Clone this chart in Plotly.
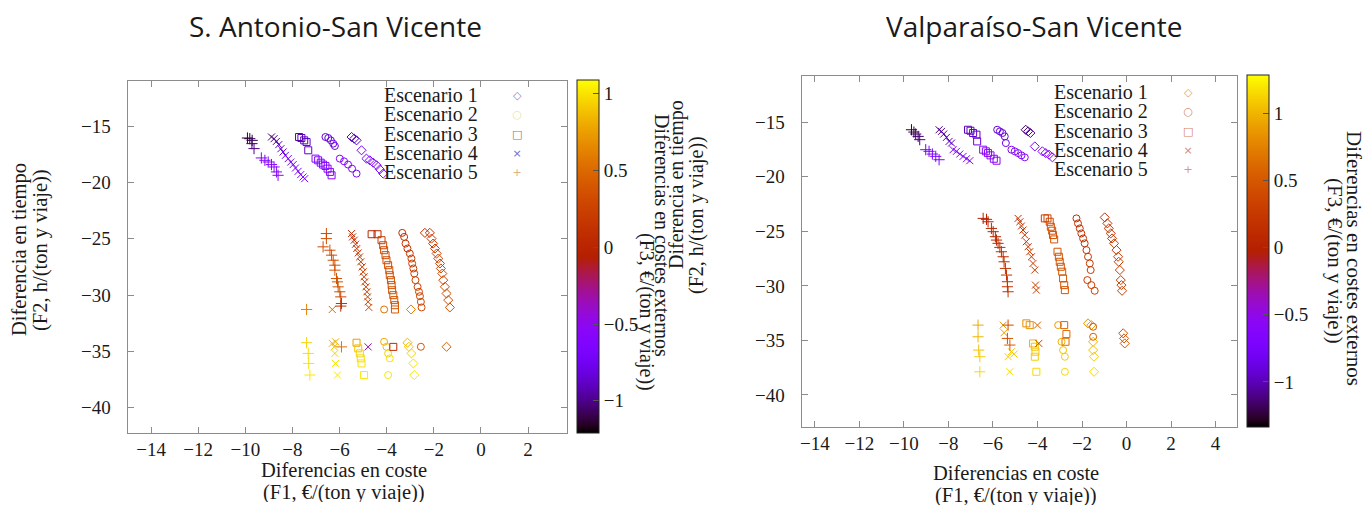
import math
import plotly.graph_objects as go

# ---------------- DATA ----------------
# S. Antonio-San Vicente (left panel): F1 = cost diff, F2 = time diff, F3 = external cost diff
SA_E1_F1 = [-5.49, -5.38, -5.28, -5.07, -4.86, -4.72, -4.57, -4.43, -4.29, -4.15,
            -2.38, -2.17, -2.10, -2.03, -1.95, -1.88, -1.81, -1.74, -1.70, -1.64, -1.60, -1.53, -1.46, -1.39, -1.32,
            -2.97, -3.12, -3.06, -2.95, -2.87, -2.83, -1.46]
SA_E1_F2 = [-15.97, -16.12, -16.27, -17.15, -17.89, -18.04, -18.25, -18.48, -18.84, -19.22,
            -24.48, -24.48, -24.99, -25.43, -25.87, -26.31, -26.76, -27.20, -27.64, -28.09, -28.68, -29.27, -29.86, -30.45, -31.10,
            -31.28, -34.23, -34.59, -35.18, -36.07, -37.10, -34.59]
SA_E1_F3 = [-0.95, -0.92, -0.90, -0.70, -0.62, -0.61, -0.60, -0.60, -0.59, -0.58,
            0.10, 0.15, 0.20, 0.22, 0.24, 0.25, 0.26, 0.28, 0.28, 0.30, 0.30, 0.32, 0.33, 0.34, 0.35,
            0.60, 0.85, 0.90, 0.95, 1.00, 1.02, 0.45]

SA_E2_F1 = [-6.60, -6.48, -6.37, -6.27, -6.20, -5.99, -5.81, -5.64, -5.47, -5.28,
            -3.34, -3.26, -3.20, -3.12, -3.02, -2.95, -2.92, -2.87, -2.83, -2.78, -2.69, -2.63, -2.59, -2.55, -2.52,
            -4.11, -4.11, -4.01, -3.94, -3.87, -3.94, -2.55]
SA_E2_F2 = [-15.97, -16.06, -16.27, -16.56, -16.77, -17.89, -18.13, -18.42, -18.78, -19.22,
            -24.48, -24.84, -25.43, -25.87, -26.31, -26.76, -27.20, -27.64, -28.09, -28.68, -29.27, -29.71, -30.10, -30.60, -31.10,
            -31.28, -34.15, -34.59, -35.18, -35.62, -37.10, -34.59]
SA_E2_F3 = [-0.85, -0.84, -0.83, -0.82, -0.80, -0.62, -0.61, -0.60, -0.60, -0.58,
            0.05, 0.10, 0.14, 0.16, 0.18, 0.20, 0.21, 0.22, 0.23, 0.24, 0.26, 0.27, 0.28, 0.29, 0.30,
            0.55, 0.80, 0.90, 0.95, 1.00, 1.02, 0.40]

SA_E3_F1 = [-7.72, -7.62, -7.50, -7.40, -7.33, -7.02, -6.91, -6.80, -6.70, -6.60, -6.51, -6.41, -6.34,
            -4.64, -4.39, -4.22, -4.15, -4.11, -4.05, -4.01, -3.94, -3.89, -3.87, -3.82, -3.79, -3.77, -3.72, -3.68, -3.65, -3.65,
            -5.28, -5.21, -5.14, -5.10, -5.07, -4.96, -3.72]
SA_E3_F2 = [-15.97, -16.06, -16.27, -16.42, -17.15, -17.89, -18.04, -18.25, -18.42, -18.54, -18.78, -19.07, -19.37,
            -24.60, -24.60, -25.13, -25.58, -26.02, -26.46, -26.91, -27.35, -27.79, -28.24, -28.68, -29.12, -29.57, -30.01, -30.45, -30.90, -31.28,
            -34.23, -34.73, -35.18, -35.62, -36.07, -37.10, -34.60]
SA_E3_F3 = [-0.95, -0.92, -0.90, -0.88, -0.85, -0.62, -0.61, -0.60, -0.60, -0.59, -0.58, -0.57, -0.56,
            0.00, 0.02, 0.20, 0.28, 0.30, 0.32, 0.32, 0.34, 0.34, 0.35, 0.35, 0.36, 0.36, 0.37, 0.37, 0.38, 0.40,
            0.75, 0.90, 0.95, 0.98, 1.00, 1.02, 0.05]

SA_E4_F1 = [-8.89, -8.78, -8.68, -8.58, -8.49, -8.40, -8.30, -8.18, -8.07, -7.97, -7.87, -7.76, -7.65, -7.55, -7.48,
            -5.49, -5.45, -5.38, -5.32, -5.27, -5.21, -5.15, -5.10, -5.04, -5.00, -4.96, -4.93, -4.88, -4.84, -4.81, -4.79, -4.76,
            -6.31, -6.31, -6.23, -6.17, -6.20, -6.17, -6.09, -4.79]
SA_E4_F2 = [-15.97, -16.12, -16.36, -16.65, -17.01, -17.30, -17.60, -17.89, -18.19, -18.42, -18.72, -19.02, -19.31, -19.52, -19.67,
            -24.54, -24.84, -25.13, -25.49, -25.87, -26.26, -26.61, -27.05, -27.50, -27.94, -28.38, -28.83, -29.27, -29.71, -30.16, -30.60, -31.10,
            -31.28, -34.29, -34.59, -34.15, -35.18, -36.07, -37.10, -34.60]
SA_E4_F3 = [-1.05, -1.00, -0.95, -0.90, -0.85, -0.80, -0.75, -0.70, -0.68, -0.66, -0.64, -0.62, -0.60, -0.60, -0.58,
            0.00, 0.05, 0.10, 0.12, 0.15, 0.18, 0.20, 0.20, 0.22, 0.22, 0.24, 0.24, 0.25, 0.26, 0.26, 0.27, 0.28,
            0.50, 0.85, 0.90, 0.80, 0.95, 1.00, 1.02, -0.35]

SA_E5_F1 = [-9.91, -9.81, -9.71, -9.72, -9.63, -9.32, -9.17, -9.03, -8.89, -8.78, -8.68, -8.61,
            -6.56, -6.56, -6.70, -6.41, -6.34, -6.27, -6.20, -6.20, -6.13, -6.09, -6.06, -5.99, -5.95, -5.92, -5.95,
            -7.40, -7.40, -7.33, -7.31, -7.26, -5.92]
SA_E5_F2 = [-16.06, -16.12, -16.27, -16.56, -17.00, -17.83, -18.04, -18.19, -18.42, -18.63, -19.07, -19.37,
            -24.54, -24.99, -25.72, -26.02, -26.46, -26.91, -27.35, -27.79, -28.53, -28.83, -29.27, -29.71, -30.16, -30.75, -30.98,
            -31.28, -34.23, -35.18, -36.07, -37.10, -34.60]
SA_E5_F3 = [-1.15, -1.12, -1.08, -1.05, -1.00, -0.62, -0.60, -0.60, -0.58, -0.58, -0.56, -0.55,
            0.30, 0.32, 0.34, 0.35, 0.36, 0.36, 0.37, 0.37, 0.38, 0.38, 0.38, 0.36, 0.30, 0.15, 0.10,
            0.62, 0.95, 0.98, 1.00, 1.02, 0.55]

# Valparaíso-San Vicente (right panel)
VA_E1_F1 = [-4.53, -4.42, -4.32, -4.12, -3.78, -3.63, -3.48, -3.33,
            -0.98, -0.86, -0.80, -0.71, -0.65, -0.56, -0.45, -0.38, -0.35, -0.30, -0.26, -0.23, -0.20,
            -1.73, -1.58, -1.50, -1.50, -1.46, -1.46, -0.15, -0.11, -0.08]
VA_E1_F2 = [-15.68, -15.83, -15.98, -17.21, -17.66, -17.82, -17.97, -18.21,
            -23.72, -24.27, -24.73, -25.19, -25.65, -26.10, -26.72, -27.33, -27.79, -28.55, -29.47, -29.93, -30.45,
            -33.44, -33.60, -35.13, -35.89, -36.50, -37.88, -34.35, -34.82, -35.28]
VA_E1_F3 = [-1.15, -1.10, -1.05, -0.70, -0.62, -0.61, -0.60, -0.58,
            0.15, 0.18, 0.20, 0.22, 0.24, 0.25, 0.26, 0.28, 0.28, 0.30, 0.30, 0.31, 0.32,
            0.85, 0.90, 1.00, 1.05, 1.10, 1.15, 0.45, 0.48, 0.50]

VA_E2_F1 = [-5.81, -5.69, -5.57, -5.47, -5.42, -5.17, -5.02, -4.87, -4.72, -4.57,
            -2.25, -2.18, -2.10, -2.03, -1.95, -1.88, -1.80, -1.73, -1.65, -1.61, -1.76, -1.58, -1.43,
            -3.07, -2.92, -2.85, -2.77, -2.77, -1.50, -1.50]
VA_E2_F2 = [-15.68, -15.83, -15.98, -16.29, -16.90, -17.51, -17.66, -17.82, -18.03, -18.21,
            -23.81, -24.27, -24.73, -25.19, -25.65, -26.10, -26.72, -27.33, -27.94, -28.55, -29.47, -29.93, -30.45,
            -33.60, -35.13, -35.89, -36.50, -37.88, -33.75, -34.67]
VA_E2_F3 = [-0.92, -0.90, -0.88, -0.86, -0.84, -0.62, -0.61, -0.60, -0.60, -0.58,
            0.12, 0.14, 0.16, 0.18, 0.20, 0.21, 0.22, 0.24, 0.25, 0.26, 0.28, 0.29, 0.30,
            0.90, 1.00, 1.05, 1.10, 1.15, 0.50, 0.55]

VA_E3_F1 = [-7.12, -7.01, -6.89, -6.74, -6.71, -6.44, -6.32, -6.22, -6.11, -5.96, -5.84,
            -3.67, -3.55, -3.45, -3.40, -3.34, -3.30, -3.25, -3.10, -3.04, -3.00, -2.95, -2.89, -2.85, -2.80, -2.77,
            -4.50, -4.35, -4.20, -4.12, -4.09, -4.12, -4.05, -2.80, -2.70, -2.74]
VA_E3_F2 = [-15.68, -15.77, -15.98, -16.13, -16.75, -17.51, -17.66, -17.82, -18.03, -18.34, -18.52,
            -23.81, -23.81, -24.12, -24.58, -24.94, -25.34, -25.74, -26.87, -27.33, -27.79, -28.25, -28.70, -29.32, -29.93, -30.39,
            -33.44, -33.60, -35.28, -35.58, -36.04, -36.50, -37.88, -33.60, -34.42, -35.13]
VA_E3_F3 = [-1.00, -0.98, -0.96, -0.94, -0.90, -0.60, -0.58, -0.57, -0.56, -0.55, -0.55,
            0.30, 0.35, 0.40, 0.42, 0.44, 0.45, 0.46, 0.46, 0.47, 0.47, 0.48, 0.48, 0.49, 0.50, 0.50,
            0.80, 0.85, 1.00, 1.05, 1.08, 1.10, 1.15, 0.60, 0.62, 0.65]

VA_E4_F1 = [-8.42, -8.31, -8.21, -8.09, -7.97, -7.86, -7.79, -7.64, -7.49, -7.34, -7.19, -7.04,
            -4.87, -4.79, -4.72, -4.65, -4.57, -4.50, -4.42, -4.35, -4.27, -4.20, -4.12, -4.09, -4.05,
            -5.54, -5.50, -5.17, -5.32, -5.05, -5.24, -4.00, -3.94]
VA_E4_F2 = [-15.68, -15.83, -16.07, -16.38, -16.75, -16.90, -17.51, -17.66, -17.91, -18.12, -18.34, -18.52,
            -23.81, -24.12, -24.51, -24.88, -25.34, -25.95, -26.41, -26.87, -27.33, -27.94, -28.55, -29.93, -30.39,
            -33.60, -34.30, -36.04, -36.50, -36.26, -37.88, -33.60, -35.28]
VA_E4_F3 = [-1.10, -1.07, -1.04, -1.00, -0.97, -0.95, -0.66, -0.65, -0.64, -0.63, -0.62, -0.60,
            0.15, 0.17, 0.19, 0.20, 0.22, 0.23, 0.24, 0.25, 0.26, 0.27, 0.28, 0.29, 0.30,
            0.85, 0.90, 1.05, 1.10, 1.08, 1.15, 0.55, 0.30]

VA_E5_F1 = [-9.66, -9.55, -9.47, -9.36, -9.29, -9.02, -8.87, -8.72, -8.57, -8.42,
            -6.44, -6.29, -6.22, -6.07, -5.99, -5.89, -5.84, -5.77, -5.69, -5.62, -5.54, -5.50, -5.44, -5.39, -5.35, -5.35, -5.32,
            -6.67, -6.67, -6.64, -6.59, -6.59, -5.32, -5.35, -5.24]
VA_E5_F2 = [-15.68, -15.89, -16.07, -16.29, -16.59, -17.51, -17.66, -17.91, -18.12, -18.43,
            -23.81, -23.90, -24.12, -24.73, -25.03, -25.49, -25.80, -26.10, -26.47, -26.87, -27.33, -27.79, -28.40, -29.01, -29.62, -30.08, -30.54,
            -33.60, -34.67, -35.89, -36.50, -37.88, -33.60, -34.82, -35.43]
VA_E5_F3 = [-1.25, -1.22, -1.18, -1.14, -1.10, -0.72, -0.70, -0.68, -0.66, -0.65,
            0.00, 0.02, 0.04, 0.06, 0.08, 0.09, 0.10, 0.11, 0.12, 0.13, 0.14, 0.15, 0.16, 0.17, 0.18, 0.19, 0.20,
            0.95, 1.00, 1.05, 1.10, 1.15, 0.40, 0.45, 0.50]

SCENARIOS = ["Escenario 1", "Escenario 2", "Escenario 3", "Escenario 4", "Escenario 5"]
PANEL_TITLES = ["S. Antonio-San Vicente", "Valparaíso-San Vicente"]
X_TICKS_SA = [-14, -12, -10, -8, -6, -4, -2, 0, 2]
X_TICKS_VA = [-14, -12, -10, -8, -6, -4, -2, 0, 2, 4]
Y_TICKS = [-40, -35, -30, -25, -20, -15]
CB_TICKS = [-1, -0.5, 0, 0.5, 1]

# ---------------- STYLE ----------------
# the page body has an 8px margin, so the figure is drawn 8px in and 8px smaller
OFF = 8
W, H = 1372 - OFF, 508 - OFF
SERIF = "Liberation Serif"
TXT = "#1a1a1a"
FRAME = "#8c8c8c"
SYMBOLS = ["diamond-open", "circle-open", "square-open", "x-thin-open", "cross-thin-open"]
SIZES = [7, 7, 7, 7, 8]
LEG_GLYPHS = ["◇", "○", "□", "×", "+"]
LEG_COLORS_SA = ["#8a82d0", "#eee2a8", "#7d7d7d", "#7a6cc8", "#e0b27e"]
LEG_COLORS_VA = ["#e0a070", "#d58a78", "#d9805a", "#d98a70", "#d99a6e"]
LEG_ROW = 19.3  # px between key rows


def gnuplot_color(t):
    r = math.sqrt(t)
    g = t ** 3
    b = max(0.0, math.sin(2 * math.pi * t))
    return "rgb(%d,%d,%d)" % (round(r * 255), round(g * 255), round(b * 255))


COLORSCALE = [[i / 50, gnuplot_color(i / 50)] for i in range(51)]


def px(x):
    return (x - OFF) / W


def py(y):
    return 1 - (y - OFF) / H


fig = go.Figure()

sa = [(SA_E1_F1, SA_E1_F2, SA_E1_F3), (SA_E2_F1, SA_E2_F2, SA_E2_F3), (SA_E3_F1, SA_E3_F2, SA_E3_F3),
      (SA_E4_F1, SA_E4_F2, SA_E4_F3), (SA_E5_F1, SA_E5_F2, SA_E5_F3)]
va = [(VA_E1_F1, VA_E1_F2, VA_E1_F3), (VA_E2_F1, VA_E2_F2, VA_E2_F3), (VA_E3_F1, VA_E3_F2, VA_E3_F3),
      (VA_E4_F1, VA_E4_F2, VA_E4_F3), (VA_E5_F1, VA_E5_F2, VA_E5_F3)]

for panel, (data, xa, ya, ca) in enumerate([(sa, "x", "y", "coloraxis"), (va, "x2", "y2", "coloraxis2")]):
    for i, (f1, f2, f3) in enumerate(data):
        fig.add_trace(go.Scatter(
            x=f1, y=f2, mode="markers", name=SCENARIOS[i], showlegend=False,
            xaxis=xa, yaxis=ya,
            marker=dict(symbol=SYMBOLS[i], size=SIZES[i], color=f3, coloraxis=ca,
                        line=dict(width=1)),
        ))

TICKFONT = dict(family=SERIF, size=19, color=TXT)
axis_common = dict(showline=True, linecolor=FRAME, linewidth=1, mirror="ticks", ticks="inside",
                   ticklen=6, tickcolor=FRAME, showgrid=False, zeroline=False, tickfont=TICKFONT)

L_X0, L_X1, L_Y0, L_Y1 = 127.5, 566.5, 81, 432.5
R_X0, R_X1, R_Y0, R_Y1 = 801.5, 1236.5, 76, 426.5

fig.update_layout(
    width=W, height=H, autosize=False, margin=dict(l=0, r=0, t=0, b=0),
    paper_bgcolor="white", plot_bgcolor="white",
    font=dict(family=SERIF, size=19, color=TXT),
    xaxis=dict(domain=[px(L_X0), px(L_X1)], range=[-15.0, 3.63], tickvals=X_TICKS_SA,
               anchor="y", **axis_common),
    yaxis=dict(domain=[py(L_Y1), py(L_Y0)], range=[-42.2, -11.0], tickvals=Y_TICKS,
               anchor="x", ticklabelstandoff=12, **axis_common),
    xaxis2=dict(domain=[px(R_X0), px(R_X1)], range=[-14.6, 4.94], tickvals=X_TICKS_VA,
                anchor="y2", **axis_common),
    yaxis2=dict(domain=[py(R_Y1), py(R_Y0)], range=[-42.9, -10.75], tickvals=Y_TICKS,
                anchor="x2", ticklabelstandoff=12, **axis_common),
    coloraxis=dict(colorscale=COLORSCALE, cmin=-1.21, cmax=1.09,
                   colorbar=dict(x=px(577), xanchor="left", y=py((80 + 433) / 2), yanchor="middle",
                                 len=(433 - 80) / H, lenmode="fraction", thickness=22, thicknessmode="pixels",
                                 xpad=0, ypad=0, outlinewidth=1, outlinecolor="#222",
                                 tickvals=CB_TICKS, ticks="inside", ticklen=6, tickcolor="#555",
                                 tickfont=TICKFONT)),
    coloraxis2=dict(colorscale=COLORSCALE, cmin=-1.335, cmax=1.285,
                    colorbar=dict(x=px(1247), xanchor="left", y=py((75 + 427) / 2), yanchor="middle",
                                  len=(427 - 75) / H, lenmode="fraction", thickness=22, thicknessmode="pixels",
                                  xpad=0, ypad=0, outlinewidth=1, outlinecolor="#222",
                                  tickvals=CB_TICKS, ticks="inside", ticklen=6, tickcolor="#555",
                                  tickfont=TICKFONT)),
)

ann = []


def text(x, y, s, size=20, family=SERIF, angle=0, xanchor="center", color=TXT, height=None, align="center"):
    a = dict(x=px(x), y=py(y), xref="paper", yref="paper", text=s, showarrow=False,
             textangle=angle, xanchor=xanchor, yanchor="middle", align=align,
             font=dict(family=family, size=size, color=color))
    if height:
        a["height"] = height
        a["valign"] = "middle"
    ann.append(a)


# panel titles
text(335, 26, PANEL_TITLES[0], size=28, family="Open Sans", height=36)
text(1034, 26, PANEL_TITLES[1], size=28, family="Open Sans", height=36)

# x axis titles
text(344, 470, "Diferencias en coste", size=20.5, height=20)
text(344, 492, "(F1, €/(ton y viaje))", size=20.5, height=20)
text(1016, 473, "Diferencias en coste", size=20.5, height=20)
text(1016, 495, "(F1, €/(ton y viaje))", size=20.5, height=20)

# y axis title (left panel)
text(19, 250, "Diferencia en tiempo", angle=-90, size=20.5)
text(40, 250, "(F2, h/(ton y viaje))", angle=-90, size=20.5)

# colorbar titles
text(662, 235, "Diferencias en costes externos", angle=90, size=20)
text(647, 312, "(F3, €/(ton y viaje))", angle=90, size=20)
text(676, 185, "Diferencia en tiempo", angle=-90, size=20)
text(697, 215, "(F2, h/(ton y viaje))", angle=-90, size=20)
text(1354, 258, "Diferencias en costes externos", angle=90, size=21)
text(1335, 261, "(F3, €/(ton y viaje))", angle=90, size=21)

# keys: one multi-line block per panel; the block font size sets the row pitch,
# the spans set the glyph size
BASE = LEG_ROW / 1.3
names_block = "<br>".join('<span style="font-size:20px">%s</span>' % n for n in SCENARIOS)
glyphs_sa = "<br>".join('<span style="font-size:11px;fill:%s">%s</span>' % (c, g)
                        for c, g in zip(LEG_COLORS_SA, LEG_GLYPHS))
glyphs_va = "<br>".join('<span style="font-size:11px;fill:%s">%s</span>' % (c, g)
                        for c, g in zip(LEG_COLORS_VA, LEG_GLYPHS))
mid_l = 95 + 2 * LEG_ROW
mid_r = 92 + 2 * LEG_ROW
text(480, mid_l, names_block, size=BASE, xanchor="right", align="right")
text(517, mid_l, glyphs_sa, size=BASE, family="DejaVu Sans")
text(1150, mid_r, names_block, size=BASE, xanchor="right", align="right")
text(1188, mid_r, glyphs_va, size=BASE, family="DejaVu Sans")

fig.update_layout(annotations=ann)
fig.write_html("out.html")
